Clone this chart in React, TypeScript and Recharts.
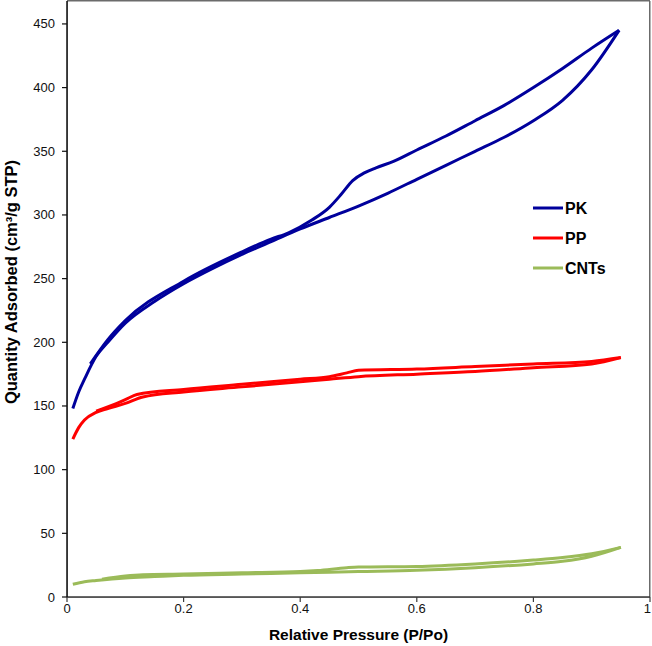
import React from 'react';
import { ComposedChart, Line, XAxis, YAxis } from 'recharts';

const PK_COLOR = '#00009C';
const PP_COLOR = '#FF0000';
const CNT_COLOR = '#9BBB59';

const xTicks = [0, 0.2, 0.4, 0.6, 0.8, 1];
const yTicks = [0, 50, 100, 150, 200, 250, 300, 350, 400, 450];

// [P/Po, quantity adsorbed]
const pkAdsorption = [
    [0.01, 148], [0.02, 161], [0.03, 171], [0.05, 189], [0.07, 200], [0.1, 215], [0.15, 232],
    [0.2, 246], [0.25, 258], [0.3, 269], [0.35, 279], [0.4, 289], [0.45, 298], [0.5, 307],
    [0.55, 317], [0.6, 328], [0.65, 339], [0.7, 350], [0.75, 361], [0.8, 374], [0.85, 390],
    [0.9, 414], [0.947, 445],
];
const pkDesorption = [
    [0.04, 183], [0.07, 202], [0.1, 217], [0.2, 248], [0.3, 271], [0.35, 281], [0.38, 286], [0.42, 296],
    [0.45, 306], [0.47, 316], [0.49, 327], [0.51, 333], [0.53, 337], [0.56, 342], [0.6, 351],
    [0.65, 362], [0.7, 374], [0.75, 386], [0.8, 400], [0.85, 415], [0.9, 431], [0.947, 445],
];
const ppAdsorption = [
    [0.01, 124], [0.02, 133], [0.03, 139], [0.05, 145], [0.07, 148], [0.1, 152], [0.13, 157],
    [0.2, 161], [0.3, 165], [0.4, 169], [0.45, 171], [0.5, 173], [0.6, 175], [0.7, 177],
    [0.8, 180], [0.9, 183], [0.95, 188],
];
const ppDesorption = [
    [0.05, 146], [0.08, 151], [0.1, 155], [0.12, 159], [0.2, 163], [0.3, 167], [0.4, 171],
    [0.45, 173], [0.48, 176], [0.5, 178], [0.6, 179], [0.7, 181], [0.8, 183], [0.9, 185],
    [0.95, 188],
];
const cntAdsorption = [
    [0.01, 10], [0.03, 12], [0.05, 13], [0.1, 15], [0.15, 16], [0.2, 17], [0.3, 18], [0.4, 19],
    [0.5, 20], [0.6, 21], [0.7, 23], [0.8, 26], [0.85, 28], [0.9, 32], [0.95, 39],
];
const cntDesorption = [
    [0.06, 14], [0.1, 16.5], [0.13, 17.5], [0.2, 18], [0.3, 19], [0.4, 20], [0.43, 20.8], [0.48, 23],
    [0.5, 23.5], [0.6, 24], [0.7, 26], [0.8, 29], [0.85, 31], [0.9, 34], [0.95, 39],
];

const toRows = (pts: number[][]) => pts.map(([p, q]) => ({ p, q }));

const FONT = '"Liberation Sans", Arial, sans-serif';

// plot box (layout only)
const PLOT = { left: 67, top: 1, right: 650, bottom: 597 };

const legendItems = [
    { name: 'PK', color: PK_COLOR },
    { name: 'PP', color: PP_COLOR },
    { name: 'CNTs', color: CNT_COLOR },
];

// legend drawn straight into the svg so it takes no layout space
function IsothermLegend() {
    return (
        <g>
            {legendItems.map((it, i) => {
                const y = 208 + i * 30;
                return (
                    <g key={it.name}>
                        <line x1={533} x2={563} y1={y} y2={y} stroke={it.color} strokeWidth={3} />
                        <text x={565} y={y} dominantBaseline="central" fontWeight="bold" fontSize={16} fill="#000" fontFamily={FONT}>
                            {it.name}
                        </text>
                    </g>
                );
            })}
        </g>
    );
}

// frame drawn as filled bars
function Frame() {
    const w = PLOT.right - PLOT.left;
    const h = PLOT.bottom - PLOT.top;
    return (
        <g>
            <rect x={PLOT.left} y={PLOT.top - 1} width={w} height={1.5} fill="#6b6b6b" />
            <rect x={PLOT.right - 1} y={PLOT.top} width={1.5} height={h} fill="#6b6b6b" />
            <rect x={PLOT.left} y={PLOT.bottom - 0.75} width={w} height={1.6} fill="#3a3a3a" />
            <rect x={PLOT.left - 0.75} y={PLOT.top} width={1.6} height={h} fill="#111" />
        </g>
    );
}

function XTick(props: any) {
    const { x, y, payload } = props;
    const last = payload.value === 1;
    return (
        <g>
            <rect x={x - 0.6} y={y} width={1.2} height={5} fill="#3a3a3a" />
            <text x={last ? x + 1 : x} y={y + 16} textAnchor={last ? 'end' : 'middle'} fontSize={13} fill="#111" fontFamily={FONT}>
                {payload.value}
            </text>
        </g>
    );
}

function YTick(props: any) {
    const { x, y, payload } = props;
    return (
        <g>
            <rect x={x - 5} y={y - 0.6} width={5} height={1.2} fill="#111" />
            <text x={x - 12} y={y} textAnchor="end" dominantBaseline="central" fontSize={13} fill="#111" fontFamily={FONT}>
                {payload.value}
            </text>
        </g>
    );
}

function XLabel() {
    return (
        <text x={(PLOT.left + PLOT.right) / 2} y={634} textAnchor="middle" dominantBaseline="central" fontWeight="bold" fontSize={15.5} fill="#000" fontFamily={FONT}>
            Relative Pressure (P/Po)
        </text>
    );
}

function YLabel() {
    return (
        <text x={11} y={282} transform="rotate(-90 11 282)" textAnchor="middle" dominantBaseline="central" fontWeight="bold" fontSize={16.5} fill="#000" fontFamily={FONT}>
            Quantity Adsorbed (cm³/g STP)
        </text>
    );
}

export default function App() {
    return (
        <div style={{ position: 'absolute', left: 0, top: 0, width: 652, height: 646, background: '#fff' }}>
            <ComposedChart width={652} height={646} margin={{ top: 1, right: 2, bottom: 19, left: 0 }}>
                <XAxis
                    dataKey="p"
                    type="number"
                    domain={[0, 1]}
                    ticks={xTicks}
                    allowDuplicatedCategory={false}
                    height={30}
                    tickSize={0}
                    tickMargin={0}
                    axisLine={false}
                    tickLine={false}
                    tick={<XTick />}
                    interval={0}
                />
                <YAxis
                    type="number"
                    domain={[0, 468]}
                    ticks={yTicks}
                    width={67}
                    tickSize={0}
                    tickMargin={0}
                    axisLine={false}
                    tickLine={false}
                    tick={<YTick />}
                    interval={0}
                    allowDataOverflow
                />
                <Line data={toRows(pkAdsorption)} dataKey="q" name="PK" type="monotone" stroke={PK_COLOR} strokeWidth={3} dot={false} isAnimationActive={false} />
                <Line data={toRows(pkDesorption)} dataKey="q" name="PK des" type="monotone" stroke={PK_COLOR} strokeWidth={3} dot={false} isAnimationActive={false} />
                <Line data={toRows(ppAdsorption)} dataKey="q" name="PP" type="monotone" stroke={PP_COLOR} strokeWidth={3} dot={false} isAnimationActive={false} />
                <Line data={toRows(ppDesorption)} dataKey="q" name="PP des" type="monotone" stroke={PP_COLOR} strokeWidth={3} dot={false} isAnimationActive={false} />
                <Line data={toRows(cntAdsorption)} dataKey="q" name="CNTs" type="monotone" stroke={CNT_COLOR} strokeWidth={3} dot={false} isAnimationActive={false} />
                <Line data={toRows(cntDesorption)} dataKey="q" name="CNTs des" type="monotone" stroke={CNT_COLOR} strokeWidth={3} dot={false} isAnimationActive={false} />
                <Frame />
                <IsothermLegend />
                <XLabel />
                <YLabel />
            </ComposedChart>
        </div>
    );
}
